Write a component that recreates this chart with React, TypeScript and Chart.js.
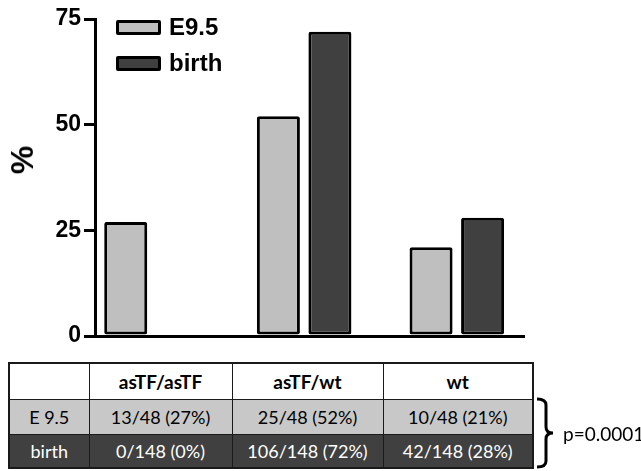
import React, { useEffect, useRef } from "react";
import { Chart, registerables } from "chart.js";

Chart.register(...registerables);

// ---- data ----
const categories = ["asTF/asTF", "asTF/wt", "wt"];
const seriesLabels = ["E9.5", "birth"];
const e95Values = [27, 52, 21];
const birthValues = [0, 72, 28];
const yTickValues = [0, 25, 50, 75];
const tableRowLabels = ["E 9.5", "birth"];
const e95Counts = [13, 25, 10];
const e95Total = 48;
const birthCounts = [0, 106, 42];
const birthTotal = 148;
const pValueText = "p=0.0001";
const yAxisTitle = "%";

// ---- styles ----
const e95Color = "#bfbfbf";
const birthColor = "#404040";
const e95RowColor = "#c8c8c8";
const birthRowColor = "#404040";
const axisFont = '"Liberation Sans", Arial, sans-serif';
const tableFont = 'Lato, "Open Sans", sans-serif';

const W = 641;
const H = 471;

export default function App() {
  const canvasRef = useRef<HTMLCanvasElement | null>(null);

  useEffect(() => {
    document.body.style.margin = "0";
    const canvas = canvasRef.current;
    if (!canvas) return;
    const barStyle = {
      borderColor: "#000",
      borderWidth: 3,
      borderSkipped: false,
      borderRadius: 2,
      barPercentage: 0.835,
      categoryPercentage: 0.675,
    };
    const chart = new Chart(canvas, {
      type: "bar",
      data: {
        datasets: [
          {
            label: seriesLabels[0],
            data: e95Values.map((v, i) => ({ x: i, y: v })),
            backgroundColor: e95Color,
            ...barStyle,
          },
          {
            label: seriesLabels[1],
            data: birthValues.map((v, i) => ({ x: i, y: v })),
            backgroundColor: birthColor,
            ...barStyle,
          },
        ],
      },
      options: {
        responsive: false,
        animation: false,
        events: [],
        layout: { padding: { top: 19, right: 117, bottom: 127, left: 0 } },
        plugins: {
          legend: { display: false },
          tooltip: { enabled: false },
        },
        scales: {
          x: {
            type: "linear",
            offset: false,
            min: -0.37,
            max: 2.44,
            afterBuildTicks: (scale: any) => {
              scale.ticks = categories.map((_, i) => ({ value: i }));
            },
            ticks: { display: false },
            grid: { display: false, offset: false },
            border: { display: true, color: "#000", width: 3 },
          },
          y: {
            min: yTickValues[0],
            max: yTickValues[yTickValues.length - 1],
            afterBuildTicks: (scale: any) => {
              scale.ticks = yTickValues.map((v) => ({ value: v }));
            },
            afterFit: (scale: any) => {
              scale.width = 95;
            },
            ticks: {
              color: "#000",
              padding: 3,
              font: { family: axisFont, size: 23, weight: "bold" },
            },
            grid: {
              display: true,
              drawOnChartArea: false,
              drawTicks: true,
              tickLength: 11,
              lineWidth: 3,
              color: "#000",
            },
            border: { display: true, color: "#000", width: 3 },
          },
        },
      },
    });
    return () => chart.destroy();
  }, []);

  const rows = [
    { label: tableRowLabels[0], counts: e95Counts, total: e95Total, pct: e95Values, bg: e95RowColor, fg: "#000" },
    { label: tableRowLabels[1], counts: birthCounts, total: birthTotal, pct: birthValues, bg: birthRowColor, fg: "#fff" },
  ];
  const colWidths = [80, 143, 151, 150];
  const rowHeights = [36, 35, 34];
  const cellBorder = "1px solid #1a1a1a";

  return (
    <div style={{ position: "relative", width: W, height: H, overflow: "hidden", background: "#fff" }}>
      <canvas ref={canvasRef} width={W} height={H} style={{ position: "absolute", left: 0, top: 0, width: W, height: H }} />

      {/* y axis title */}
      <div
        style={{
          position: "absolute",
          left: 22,
          top: 160,
          transform: "translate(-50%, -50%) rotate(-90deg)",
          font: `bold 32px ${axisFont}`,
          color: "#000",
          lineHeight: "32px",
          whiteSpace: "nowrap",
        }}
      >
        {yAxisTitle}
      </div>

      {/* legend */}
      <div style={{ position: "absolute", left: 116, top: 15 }}>
        {seriesLabels.map((s, i) => (
          <div key={s} style={{ display: "flex", alignItems: "center", height: 24, marginBottom: 12 }}>
            <div
              style={{
                width: 45,
                height: 15,
                boxSizing: "border-box",
                border: "3px solid #000",
                borderRadius: 2,
                background: i === 0 ? e95Color : birthColor,
                marginRight: 8,
              }}
            />
            <span style={{ font: `bold 24px ${axisFont}`, color: "#000", lineHeight: "24px" }}>{s}</span>
          </div>
        ))}
      </div>

      {/* table */}
      <table
        style={{
          position: "absolute",
          left: 8,
          top: 362,
          borderCollapse: "collapse",
          tableLayout: "fixed",
          border: "2px solid #1a1a1a",
          font: `18px ${tableFont}`,
        }}
      >
        <colgroup>
          {colWidths.map((w, i) => (
            <col key={i} style={{ width: w }} />
          ))}
        </colgroup>
        <tbody>
          <tr style={{ height: rowHeights[0], background: "#fff" }}>
            <td style={{ border: cellBorder, padding: 0 }} />
            {categories.map((c) => (
              <td
                key={c}
                style={{ border: cellBorder, padding: 0, textAlign: "center", fontWeight: "bold", fontSize: 19, color: "#000" }}
              >
                {c}
              </td>
            ))}
          </tr>
          {rows.map((r, ri) => (
            <tr key={r.label} style={{ height: rowHeights[ri + 1], background: r.bg, color: r.fg }}>
              <td style={{ border: cellBorder, padding: 0, textAlign: "center" }}>{r.label}</td>
              {r.counts.map((n, i) => (
                <td key={i} style={{ border: cellBorder, padding: 0, textAlign: "center" }}>
                  {`${n}/${r.total} (${r.pct[i]}%)`}
                </td>
              ))}
            </tr>
          ))}
        </tbody>
      </table>

      {/* bracket + p value */}
      <svg style={{ position: "absolute", left: 0, top: 0 }} width={W} height={H}>
        <path
          d="M537,399 Q546,399 546,405 L546,427 Q546,433 553,433 Q546,433 546,439 L546,461 Q546,467 537,467"
          fill="none"
          stroke="#000"
          strokeWidth={3}
        />
      </svg>
      <div
        style={{
          position: "absolute",
          left: 563,
          top: 433,
          transform: "translateY(-50%)",
          font: `19px ${tableFont}`,
          color: "#000",
          whiteSpace: "nowrap",
        }}
      >
        {pValueText}
      </div>
    </div>
  );
}
